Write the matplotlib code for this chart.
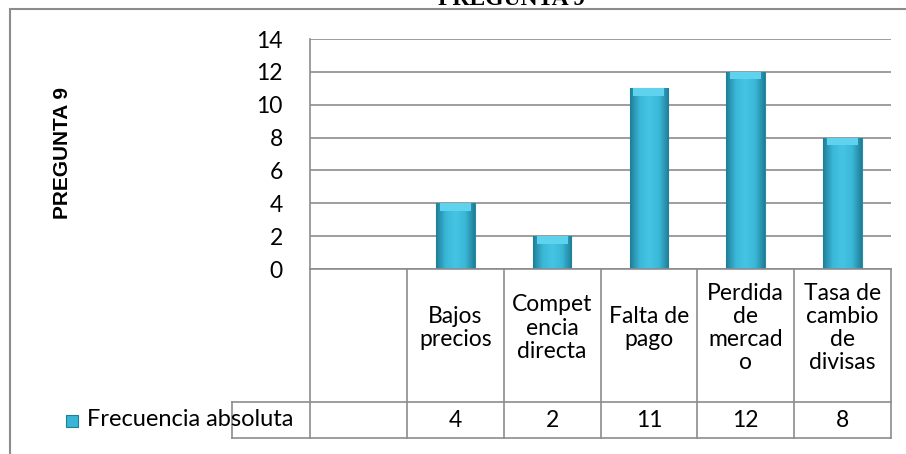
import numpy as np
import matplotlib.pyplot as plt
from matplotlib.patches import Rectangle
from matplotlib.colors import LinearSegmentedColormap
import matplotlib.transforms as mtransforms

plt.rcParams['font.family'] = ['Lato', 'DejaVu Sans']

# data
categorias = ["", "Bajos\nprecios", "Compet\nencia\ndirecta", "Falta de\npago",
              "Perdida\nde\nmercad\no", "Tasa de\ncambio\nde\ndivisas"]
frecuencia = [np.nan, 4, 2, 11, 12, 8]
serie = "Frecuencia absoluta"
titulo = "PREGUNTA 9"

W, H = 906, 454
fs = 16.5
fig = plt.figure(figsize=(W / 100, H / 100), dpi=100)

# outer chart border (runs past the right/bottom edge like the screenshot)
fig.patches.append(Rectangle((10 / W, -0.1), 1.2, 1 - 9 / H + 0.1, transform=fig.transFigure,
                             fill=False, edgecolor="#8c8c8c", lw=1.5))

ax = fig.add_axes([310 / W, 1 - 269 / H, 581 / W, 230 / H])
x = np.arange(len(categorias))
bars = ax.bar(x, frecuencia, width=0.4, color="#3ab5d5", edgecolor="#2a8ba6", lw=0.8, zorder=3)

# cylinder-ish shading on each bar
cmap = LinearSegmentedColormap.from_list("bevel", ["#1f7e98", "#3bb8d8", "#45c4e4", "#3bb8d8", "#1f7e98"])
grad = np.linspace(0, 1, 100).reshape(1, -1)
for b in bars:
    if np.isnan(b.get_height()):
        continue
    x0, w, h = b.get_x(), b.get_width(), b.get_height()
    im = ax.imshow(grad, extent=[x0, x0 + w, 0, h], aspect="auto", cmap=cmap, zorder=3.5)
    im.set_clip_path(b)
    # lighter top bevel
    ax.bar(x0 + w / 2, 0.45, bottom=h - 0.45, width=w * 0.8, color="#5fd2ee", lw=0, zorder=4)

ax.set_xlim(-0.5, len(categorias) - 0.5)
ax.set_ylim(0, 14)
ax.set_yticks(range(0, 15, 2))
ax.tick_params(axis="y", length=0, pad=19.5, labelsize=fs)
ax.set_xticks([])
ax.grid(axis="y", color="#8c8c8c", lw=1.2, zorder=0)
for s in ["top", "right", "bottom"]:
    ax.spines[s].set_visible(False)
ax.spines["left"].set_color("#8c8c8c")
ax.spines["left"].set_linewidth(1.2)

# data table under the plot
tr = mtransforms.blended_transform_factory(ax.transData, ax.transAxes)
r1 = -133 / 230
r2 = -169 / 230
left_leg = -0.5 - 78 / 96.8
lc = "#8c8c8c"
ax.plot([-0.5, x[-1] + 0.5], [0, 0], color=lc, lw=1.2, transform=tr, clip_on=False, zorder=5)
ax.plot([left_leg, x[-1] + 0.5], [r1, r1], color=lc, lw=1.2, transform=tr, clip_on=False)
ax.plot([left_leg, x[-1] + 0.5], [r2, r2], color=lc, lw=1.2, transform=tr, clip_on=False)
ax.plot([left_leg, left_leg], [r1, r2], color=lc, lw=1.2, transform=tr, clip_on=False)
for xi in list(x - 0.5) + [x[-1] + 0.5]:
    ax.plot([xi, xi], [0, r2], color=lc, lw=1.2, transform=tr, clip_on=False)

ycat = -59 / 230
for xi, cat, v in zip(x, categorias, frecuencia):
    ax.text(xi, ycat, cat, transform=tr, ha="center", va="center", fontsize=fs,
            linespacing=1.12)
    if not np.isnan(v):
        ax.text(xi, (r1 + r2) / 2, f"{v:g}", transform=tr, ha="center", va="center", fontsize=fs)

# legend key in the table
fig.patches.append(Rectangle((66 / W, 1 - 427 / H), 12 / W, 12 / H, transform=fig.transFigure,
                             facecolor="#3ab5d5", edgecolor="#1f7e98", lw=0.8))
fig.text(87 / W, 1 - 420 / H, serie, ha="left", va="center", fontsize=17)

# titles
fig.text(512 / W, 1 - 5 / H, titulo, ha="center", va="baseline", fontsize=17,
         fontweight="bold", family="Liberation Serif")
fig.text(63 / W, 1 - 153 / H, titulo, ha="center", va="center", rotation=90,
         fontsize=15, fontweight="bold", family="Liberation Sans")

fig.savefig("out.png", dpi=100)
